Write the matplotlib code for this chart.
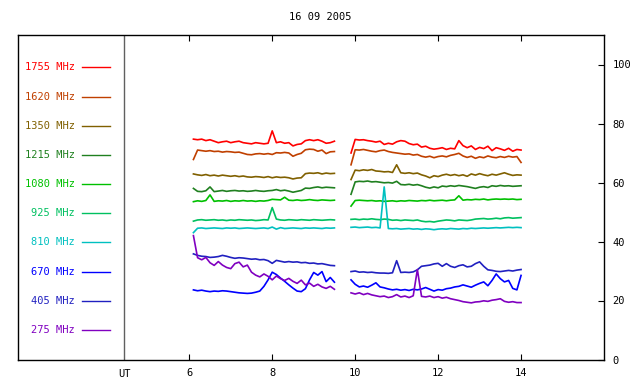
import numpy as np
import matplotlib
matplotlib.use("Agg")
import matplotlib.pyplot as plt

plt.rcParams['font.family'] = 'DejaVu Sans Mono'

# time grid of the two recording blocks (UT hours)
hours_a = np.round(np.arange(6.1, 9.55, 0.1), 2)
hours_b = np.round(np.arange(9.9, 14.05, 0.1), 2)

freqs = ['1755', '1620', '1350', '1215', '1080', '925', '810', '670', '405', '275']
colors = ['#ff0000', '#c04000', '#806000', '#208020', '#00c000',
          '#00c060', '#00c0c0', '#0000ff', '#2020c0', '#8000c0']
legend_y = [99, 89, 79.2, 69.4, 59.5, 49.7, 39.9, 29.7, 19.8, 10]

f1755_a = [74.7,74.5,74.7,74.2,74.5,74.0,73.5,73.8,74.0,73.5,73.8,74.0,73.5,73.3,73.1,73.5,73.3,73.1,73.3,77.5,
           73.5,73.8,73.3,73.5,72.4,72.9,73.1,74.2,74.5,74.2,74.5,74.0,73.3,73.5,74.0]
f1755_b = [70.0,74.6,74.4,74.5,74.2,74.0,73.7,74.0,72.9,73.3,73.0,73.8,74.2,74.0,73.2,72.8,73.0,72.0,72.3,71.6,
           71.3,71.5,71.8,71.2,71.6,71.4,74.2,72.5,71.8,72.4,71.2,71.9,71.5,72.3,70.8,71.8,71.4,70.9,71.6,70.6,
           71.2,71.0]
f1620_a = [67.8,71.0,70.8,70.6,70.8,70.5,70.6,70.3,70.5,70.4,70.2,70.3,69.9,69.5,69.4,69.7,69.8,69.6,69.8,69.5,
           70.1,70.0,70.2,70.0,68.9,69.5,69.9,71.1,71.3,71.2,70.6,71.0,69.8,70.4,70.5]
f1620_b = [66.0,71.1,71.0,71.2,70.9,70.6,70.4,70.8,71.0,70.5,70.2,70.0,69.8,69.6,69.7,69.3,69.5,68.9,68.6,68.9,
           68.4,68.8,69.0,68.7,69.2,69.5,69.9,69.0,68.5,68.9,68.2,68.7,68.4,69.0,68.6,68.4,68.8,68.5,68.9,68.6,
           68.8,66.8]
f1350_a = [62.9,62.6,62.4,62.7,62.3,62.5,62.2,62.5,62.3,62.1,62.3,62.0,62.2,61.9,61.8,62.0,61.9,61.7,62.0,61.6,
           61.9,61.7,61.8,61.6,61.2,61.5,61.6,63.0,63.2,63.1,63.3,62.9,63.2,63.0,63.1]
f1350_b = [61.0,64.2,64.0,64.3,64.1,64.4,63.9,63.8,63.6,63.7,63.4,66.0,63.3,63.1,63.3,63.0,63.2,62.6,62.2,61.6,
           62.3,62.0,62.5,62.8,62.4,62.7,62.3,62.6,62.1,62.9,62.5,63.0,62.6,62.3,62.8,62.5,62.9,63.3,62.8,62.4,
           62.6,62.5]
f1215_a = [58.0,57.0,56.9,57.2,58.5,56.9,57.1,57.3,57.0,57.2,57.3,57.1,57.2,57.0,57.1,57.3,57.1,57.0,57.2,57.3,
           57.6,57.2,57.4,57.1,56.7,57.0,57.3,58.1,58.0,58.3,58.5,58.2,58.4,58.3,58.2]
f1215_b = [56.0,60.2,60.4,60.3,60.5,60.2,60.3,60.1,59.9,60.0,59.8,60.4,59.3,59.2,59.4,59.1,59.3,58.9,58.4,58.1,
           58.5,58.2,58.8,58.6,58.9,58.7,59.0,58.8,58.6,58.3,58.0,58.4,58.6,58.3,58.9,58.7,59.0,58.8,58.9,58.7,
           58.8,58.9]
f1080_a = [53.5,53.8,53.6,53.9,55.8,53.6,53.8,53.7,53.9,53.6,53.8,53.7,53.9,53.7,53.8,53.6,53.8,53.7,53.9,54.3,
           54.2,54.1,55.0,54.0,53.9,54.1,53.9,54.0,54.2,54.0,53.9,54.1,54.0,53.9,54.0]
f1080_b = [52.0,53.9,54.0,53.9,53.8,53.9,53.7,53.8,53.6,53.7,53.8,53.6,53.8,53.7,53.9,53.8,53.7,53.9,53.8,54.0,
           53.8,53.9,54.0,53.8,54.0,54.1,55.5,54.0,54.2,54.1,54.3,54.2,54.4,54.1,54.3,54.4,54.3,54.4,54.3,54.4,
           54.2,54.3]
f925_a = [46.9,47.3,47.4,47.2,47.3,47.4,47.2,47.3,47.1,47.3,47.2,47.4,47.3,47.2,47.3,47.1,47.2,47.4,47.3,51.5,
          47.6,47.3,47.2,47.4,47.3,47.2,47.4,47.3,47.2,47.4,47.3,47.2,47.3,47.4,47.3]
f925_b = [47.5,47.6,47.4,47.6,47.5,47.7,47.5,47.4,47.6,47.5,47.2,47.3,47.1,47.3,47.2,47.1,47.3,46.9,46.7,46.8,
          46.6,46.9,47.1,47.3,47.2,47.0,47.3,47.2,47.1,47.3,47.6,47.7,47.8,47.6,47.7,47.9,47.7,48.0,48.1,47.9,
          48.0,48.1]
f810_a = [43.0,44.5,44.6,44.4,44.5,44.6,44.5,44.4,44.6,44.5,44.6,44.4,44.5,44.6,44.5,44.4,44.5,44.6,44.4,44.9,
          44.2,44.7,44.4,44.5,44.6,44.5,44.4,44.6,44.5,44.6,44.5,44.4,44.6,44.5,44.6]
f810_b = [44.8,44.9,44.7,44.8,44.9,44.7,44.8,44.6,58.5,44.4,44.3,44.4,44.2,44.3,44.4,44.2,44.3,44.1,44.3,44.2,
          44.0,44.2,44.3,44.2,44.4,44.3,44.2,44.4,44.3,44.5,44.4,44.5,44.6,44.5,44.6,44.7,44.6,44.7,44.8,44.7,
          44.8,44.7]
f670_a = [23.6,23.3,23.5,23.2,23.0,23.2,23.1,23.3,23.2,23.0,22.8,22.6,22.5,22.4,22.5,22.8,23.2,24.8,27.0,29.6,
          28.8,27.6,26.5,25.3,24.2,23.2,23.0,24.0,27.0,29.5,28.6,29.8,26.4,27.8,26.2]
f670_b = [27.0,25.5,24.6,24.9,24.5,25.2,26.0,24.6,24.3,23.9,23.6,23.8,23.5,23.7,23.4,23.8,23.6,23.9,24.4,23.8,
          23.2,23.7,23.5,24.0,24.2,24.6,24.8,25.3,24.9,24.5,25.2,25.8,26.3,25.0,26.8,29.0,27.4,26.3,26.8,24.1,
          23.6,28.5]
f405_a = [35.8,35.3,35.0,34.9,34.6,34.7,34.9,35.3,35.0,34.6,34.3,34.5,34.4,34.2,34.0,34.1,33.8,33.9,33.5,32.6,
          33.6,33.3,33.0,33.2,33.0,33.1,32.8,32.9,32.6,32.7,32.4,32.5,32.2,31.9,31.8]
f405_b = [29.8,30.0,29.6,29.7,29.5,29.6,29.4,29.3,29.3,29.2,29.4,33.5,29.5,29.6,29.5,29.7,30.4,31.6,31.8,32.0,
          32.4,32.6,31.6,32.5,31.6,31.2,31.8,32.1,31.4,31.6,32.5,33.1,31.6,30.4,30.2,29.9,29.8,30.0,30.2,30.0,
          30.3,30.5]
f275_a = [42.0,34.5,33.8,34.6,32.8,31.9,33.2,32.0,31.2,30.8,32.5,33.0,31.4,32.0,29.6,28.6,28.0,29.0,28.2,27.0,
          28.3,27.4,26.8,27.5,26.5,25.8,26.9,25.3,25.9,24.8,25.5,24.6,24.1,24.8,23.8]
f275_b = [22.6,22.2,22.6,22.0,22.4,21.9,21.6,21.3,21.5,21.0,21.3,22.0,21.2,21.5,21.0,21.6,30.5,21.4,21.2,21.5,
          21.0,21.3,20.8,21.1,20.6,20.3,20.0,19.6,19.4,19.2,19.5,19.6,19.9,19.7,20.1,20.3,20.6,19.7,19.4,19.6,
          19.3,19.3]

block_a = [f1755_a, f1620_a, f1350_a, f1215_a, f1080_a, f925_a, f810_a, f670_a, f405_a, f275_a]
block_b = [f1755_b, f1620_b, f1350_b, f1215_b, f1080_b, f925_b, f810_b, f670_b, f405_b, f275_b]

fig = plt.figure(figsize=(6.4, 3.84), dpi=100)
ax = fig.add_axes([18/640, 24.5/384, 586/640, 324.5/384])

for i in range(len(freqs)):
    ax.plot(hours_a, block_a[i], color=colors[i], lw=1.2)
    ax.plot(hours_b, block_b[i], color=colors[i], lw=1.2)
    # legend entry: coloured label plus short line
    ax.text(3.25, legend_y[i], freqs[i] + ' MHz', color=colors[i],
            ha='right', va='center', fontsize=7.5)
    ax.plot([3.42, 4.09], [legend_y[i], legend_y[i]], color=colors[i], lw=1)

ax.axvline(4.434, color='#606060', lw=1)

ax.set_xlim(1.87, 16.0)
ax.set_ylim(0, 110)
ax.set_xticks([6, 8, 10, 12, 14])
ax.set_yticks([0, 20, 40, 60, 80, 100])
ax.tick_params(axis='x', direction='in', length=4, top=True, bottom=True,
               labelsize=7.5, pad=6)
ax.yaxis.tick_right()
ax.tick_params(axis='y', direction='in', length=4, left=False, right=True,
               labelleft=False, labelright=True, labelsize=7.5, pad=6)
for s in ax.spines.values():
    s.set_linewidth(1)

ax.text(4.434, -3.2, 'UT', ha='center', va='top', fontsize=7.5)
fig.text(0.5, 1 - 17/384, '16 09 2005', ha='center', va='center', fontsize=7.5)

fig.savefig('out.png', dpi=100)
